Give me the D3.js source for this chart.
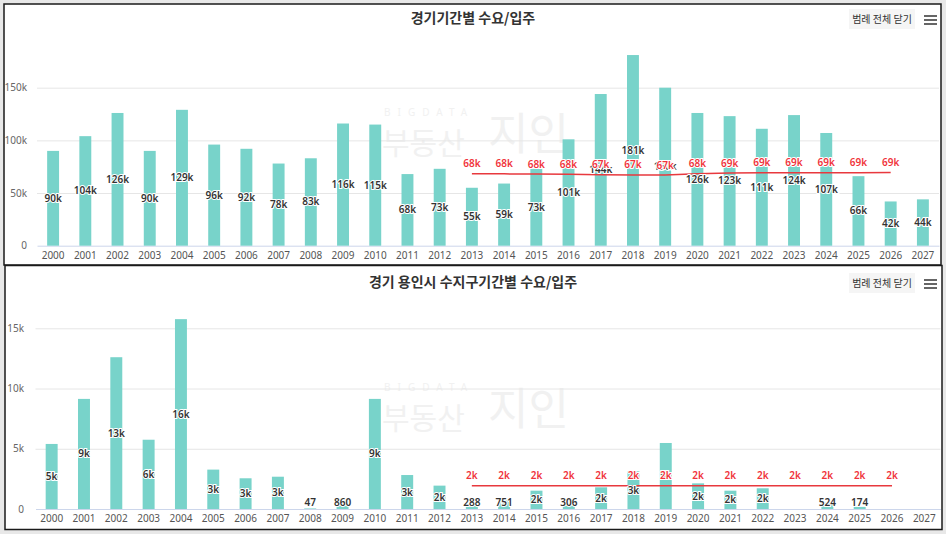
<!DOCTYPE html>
<html>
<head>
<meta charset="utf-8">
<script src="https://cdn.jsdelivr.net/npm/d3@7"></script>
<style>
  body { margin: 0; background: #e8e8e8; }
  svg { display: block; font-family: "Noto Sans CJK KR", "Noto Sans", sans-serif; }
</style>
</head>
<body>
<svg id="chart" width="946" height="534"></svg>
<script>
const years = ["2000","2001","2002","2003","2004","2005","2006","2007","2008","2009",
  "2010","2011","2012","2013","2014","2015","2016","2017","2018","2019",
  "2020","2021","2022","2023","2024","2025","2026","2027"];

// 경기 - 입주(supply) and 수요(demand)
const gyeonggiSupply = [90000,104000,126000,90000,129000,96000,92000,78000,83000,116000,
  115000,68000,73000,55000,59000,73000,101000,144000,181000,150000,
  126000,123000,111000,124000,107000,66000,42000,44000];
const gyeonggiDemand = [null,null,null,null,null,null,null,null,null,null,
  null,null,null,68400,68200,68000,67800,67400,67200,67100,
  68200,69000,69200,69300,69300,69300,69400,null];
const gyeonggiTicks = [0, 50000, 100000, 150000];

// 경기 용인시 수지구
const sujiSupply = [5400,9140,12600,5750,15760,3270,2550,2680,47,860,
  9140,2820,1940,288,751,1520,306,1800,3130,5480,
  2130,1520,1720,null,524,174,null,null];
const sujiDemand = [null,null,null,null,null,null,null,null,null,null,
  null,null,null,1930,1930,1930,1930,1930,1930,1930,
  1930,1930,1930,1930,1930,1930,1930,null];
const sujiTicks = [0, 5000, 10000, 15000];

const barColor = "#78d3ca";
const lineColor = "#e8393e";

const fmt = v => v >= 1000 ? Math.round(v / 1000) + "k" : String(v);

const svg = d3.select("#chart");

function drawPanel(p) {
  const g = svg.append("g");

  g.append("rect")
    .attr("x", p.box[0]).attr("y", p.box[1])
    .attr("width", p.box[2]).attr("height", p.box[3])
    .attr("fill", "#fff").attr("stroke", "#1a1a1a").attr("stroke-width", 1.5);

  // watermark
  const wm = g.append("g").attr("fill", "#f1f1f1");
  wm.append("text").attr("x", p.wmX).attr("y", p.wmY - 36)
    .attr("font-size", 10).attr("letter-spacing", 7).attr("font-family", "Noto Sans")
    .text("BIGDATA");
  wm.append("text").attr("x", p.wmX - 2).attr("y", p.wmY + 2)
    .attr("font-size", 30).text("부동산");
  wm.append("text").attr("x", p.wmX + 104).attr("y", p.wmY - 2)
    .attr("font-size", 44).text("지인");

  const x = d3.scaleBand()
    .domain(years)
    .range(p.xRange)
    .paddingInner(0.63)
    .paddingOuter(0.315);

  const y = d3.scaleLinear()
    .domain([0, p.ticks[p.ticks.length - 1]])
    .range(p.yRange);

  // grid
  g.append("g")
    .attr("transform", `translate(${p.xRange[0]},0)`)
    .call(d3.axisLeft(y).tickValues(p.ticks.slice(1)).tickSize(-(p.xRange[1] - p.xRange[0])).tickFormat(""))
    .call(a => a.select(".domain").remove())
    .call(a => a.selectAll("line").attr("stroke", "#e6e6e6"));

  // y labels
  g.append("g")
    .attr("transform", `translate(${p.yLabelX},0)`)
    .call(d3.axisLeft(y).tickValues(p.ticks).tickSize(0).tickPadding(0).tickFormat(fmt))
    .call(a => a.select(".domain").remove())
    .call(a => a.selectAll("text")
      .attr("fill", "#666").attr("font-size", 10).attr("font-family", "Noto Sans"));

  // x axis
  g.append("g")
    .attr("transform", `translate(0,${p.yRange[0]})`)
    .call(d3.axisBottom(x).tickSize(0).tickPadding(6))
    .call(a => a.select(".domain").attr("stroke", "#ccd6eb"))
    .call(a => a.selectAll("text")
      .attr("fill", "#555").attr("font-size", 10).attr("font-family", "Noto Sans"));

  // title
  g.append("text")
    .attr("x", 473).attr("y", p.titleY)
    .attr("text-anchor", "middle")
    .attr("font-size", 14).attr("font-weight", "bold").attr("fill", "#333")
    .text(p.title);

  // legend button + menu
  g.append("rect")
    .attr("x", 849).attr("y", p.titleY - 14).attr("width", 66).attr("height", 20)
    .attr("fill", "#f5f5f5");
  g.append("text")
    .attr("x", 882).attr("y", p.titleY)
    .attr("text-anchor", "middle").attr("font-size", 10).attr("fill", "#333")
    .text("범례 전체 닫기");
  g.selectAll(".menu")
    .data([-4, 0, 4])
    .join("line")
    .attr("x1", 924).attr("x2", 937)
    .attr("y1", d => p.titleY - 3 + d).attr("y2", d => p.titleY - 3 + d)
    .attr("stroke", "#666").attr("stroke-width", 2);

  const supply = years.map((yr, i) => ({ yr, v: p.supply[i] }));
  const demand = years.map((yr, i) => ({ yr, v: p.demand[i] })).filter(d => d.v != null);

  // bars
  g.selectAll(".bar")
    .data(supply.filter(d => d.v != null))
    .join("rect")
    .attr("x", d => x(d.yr))
    .attr("y", d => y(d.v))
    .attr("width", x.bandwidth())
    .attr("height", d => y(0) - y(d.v))
    .attr("fill", barColor);

  // demand line
  g.append("path")
    .datum(demand)
    .attr("d", d3.line().x(d => x(d.yr) + x.bandwidth() / 2).y(d => y(d.v)))
    .attr("fill", "none")
    .attr("stroke", lineColor)
    .attr("stroke-width", 1.5);

  // bar labels
  g.selectAll(".blabel")
    .data(supply.filter(d => d.v != null))
    .join("text")
    .attr("x", d => x(d.yr) + x.bandwidth() / 2)
    .attr("y", d => Math.min((y(d.v) + y(0)) / 2, y(0) - 7))
    .attr("dy", "0.35em")
    .attr("text-anchor", "middle")
    .attr("font-size", 10).attr("font-weight", 600).attr("font-family", "Noto Sans")
    .attr("fill", "#333")
    .attr("stroke", "#fff").attr("stroke-width", 2).attr("paint-order", "stroke")
    .text(d => fmt(d.v));

  // demand labels
  g.selectAll(".dlabel")
    .data(demand)
    .join("text")
    .attr("x", d => x(d.yr) + x.bandwidth() / 2)
    .attr("y", d => y(d.v) - 10)
    .attr("dy", "0.35em")
    .attr("text-anchor", "middle")
    .attr("font-size", 10).attr("font-weight", 600).attr("font-family", "Noto Sans")
    .attr("fill", "#f0333b")
    .attr("stroke", "#fff").attr("stroke-width", 2).attr("paint-order", "stroke")
    .text(d => fmt(d.v));
}

drawPanel({
  title: "경기기간별 수요/입주",
  box: [4, 4, 937, 261],
  titleY: 23,
  xRange: [37, 939],
  yRange: [245.7, 87.7],
  yLabelX: 27,
  ticks: gyeonggiTicks,
  supply: gyeonggiSupply,
  demand: gyeonggiDemand,
  wmX: 384, wmY: 152
});

drawPanel({
  title: "경기 용인시 수지구기간별 수요/입주",
  box: [5, 265.5, 937, 264],
  titleY: 287,
  xRange: [35.5, 940.5],
  yRange: [509, 328.3],
  yLabelX: 24,
  ticks: sujiTicks,
  supply: sujiSupply,
  demand: sujiDemand,
  wmX: 384, wmY: 427
});
</script>
</body>
</html>
